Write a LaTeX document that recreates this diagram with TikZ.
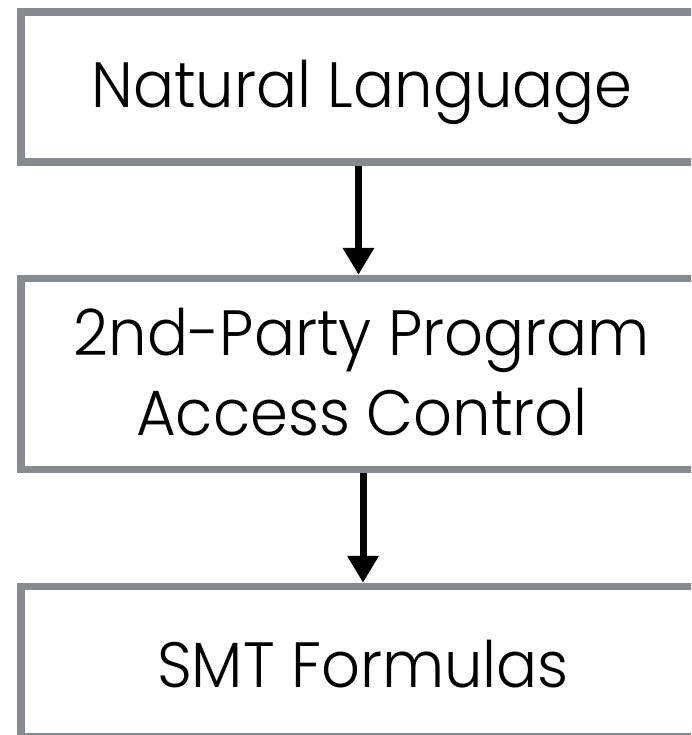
\documentclass[tikz,border=0pt]{standalone}
\usepackage{fontspec}
\setmainfont{Poppins Light}[FakeStretch=0.95]
\usetikzlibrary{arrows.meta}
\definecolor{framegray}{RGB}{134,137,141}
\tikzset{
  stage/.style={draw=framegray, line width=7.5pt, fill=white, minimum width=682pt, inner sep=0pt},
  lbl/.style={anchor=base, inner sep=0pt, font=\fontsize{64}{80}\selectfont},
  flow/.style={line width=7pt, -{Triangle[width=30pt,length=27pt]}}
}
\begin{document}
\begin{tikzpicture}[x=1pt, y=-1pt]
  \useasboundingbox (0,0) rectangle (691,735);
  \clip (0,0) rectangle (691,735);
  % three stacked stages
  \node[stage, minimum height=150pt] (nl)  at (362,87) {};
  \node[stage, minimum height=191pt] (ac)  at (362,374) {};
  \node[stage, minimum height=150pt] (smt) at (362,661.5) {};
  % captions
  \node[lbl] (tnl)  at (362,108) {Natural Language};
  \node[lbl] (tac1) at (362,355) {2nd-Party Program};
  \node[lbl] (tac2) at (362,435) {Access Control};
  \node[lbl] (tsmt) at (363,687) {SMT Formulas};
  % flow between stages
  \draw[flow] ([xshift=-3.5pt]nl.south) -- ([xshift=-3.5pt]ac.north);
  \draw[flow] ([xshift=1pt]ac.south) -- ([xshift=1pt]smt.north);
\end{tikzpicture}
\end{document}
